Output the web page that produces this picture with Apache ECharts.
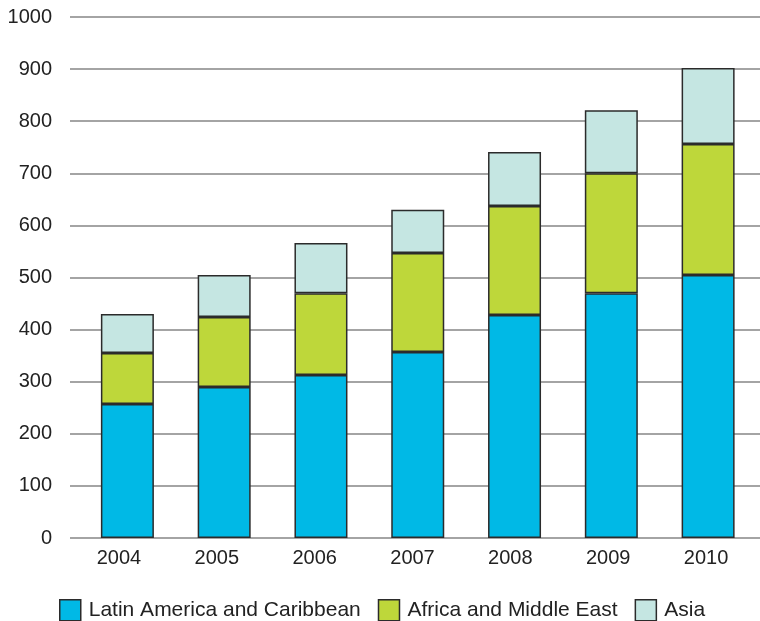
<!DOCTYPE html>
<html>
<head>
<meta charset="utf-8">
<script src="https://cdn.jsdelivr.net/npm/echarts@6/dist/echarts.min.js"></script>
<style>html,body{margin:0;padding:0;background:#fff}#c{width:760px;height:621px}</style>
</head>
<body>
<div id="c"></div>
<script>
const years = ['2004','2005','2006','2007','2008','2009','2010'];
const latinAmerica = [257, 290, 313, 357, 428, 470, 505];
const africaMiddleEast = [98, 134, 157, 190, 209, 230, 251];
const asia = [75, 81, 96, 83, 104, 121, 146];
const seriesNames = ['Latin America and Caribbean', 'Africa and Middle East', 'Asia'];
const yTicks = { min: 0, max: 1000, interval: 100 };

const FONT = '"Liberation Sans", Arial, Helvetica, sans-serif';
const colors = ['#00b9e6', '#bed73a', '#c5e6e2'];
const border = { borderColor: '#2b2b2b', borderWidth: 1.5 };

const chart = echarts.init(document.getElementById('c'), null, { renderer: 'canvas' });
const hiddenCat = (g) => ({
  gridIndex: g, type: 'category', data: years,
  axisLine: { show: false }, axisTick: { show: false }, axisLabel: { show: false }
});
const hiddenVal = (g) => ({
  gridIndex: g, type: 'value', min: yTicks.min, max: yTicks.max, interval: yTicks.interval,
  axisLine: { show: false }, axisTick: { show: false }, axisLabel: { show: false },
  splitLine: { show: false }
});
chart.setOption({
  animation: false,
  textStyle: { fontFamily: FONT },
  grid: [
    { left: 70, right: 0, top: 17, bottom: 83 },
    { left: 79, right: 3.5, top: 17, bottom: 83 },
    { left: 70, right: 5, top: 17, bottom: 83 }
  ],
  xAxis: [
    hiddenCat(0),
    hiddenCat(1),
    {
      gridIndex: 2, type: 'category', data: years,
      axisLine: { show: false }, axisTick: { show: false },
      axisLabel: { fontSize: 20, color: '#222', margin: 10, fontFamily: FONT }
    }
  ],
  yAxis: [
    {
      gridIndex: 0, type: 'value', min: yTicks.min, max: yTicks.max, interval: yTicks.interval,
      axisLine: { show: false }, axisTick: { show: false },
      axisLabel: { fontSize: 20, color: '#222', margin: 18, fontFamily: FONT, formatter: v => String(v) },
      splitLine: { show: true, lineStyle: { color: '#a4a4a4', width: 2 } }
    },
    hiddenVal(1),
    hiddenVal(2)
  ],
  legend: {
    left: 54, top: 594,
    itemWidth: 21, itemHeight: 21, itemGap: 17,
    icon: 'rect',
    data: seriesNames,
    itemStyle: { borderColor: '#2b2b2b', borderWidth: 1.5 },
    textStyle: { fontSize: 21, color: '#222', fontFamily: FONT, padding: [0, 0, 0, 3] }
  },
  series: [
    { name: seriesNames[0], data: latinAmerica, color: colors[0] },
    { name: seriesNames[1], data: africaMiddleEast, color: colors[1] },
    { name: seriesNames[2], data: asia, color: colors[2] }
  ].map(s => ({
    name: s.name, type: 'bar', stack: 'total', xAxisIndex: 1, yAxisIndex: 1,
    data: s.data, barWidth: 53,
    itemStyle: Object.assign({ color: s.color }, border)
  }))
});
</script>
</body>
</html>
